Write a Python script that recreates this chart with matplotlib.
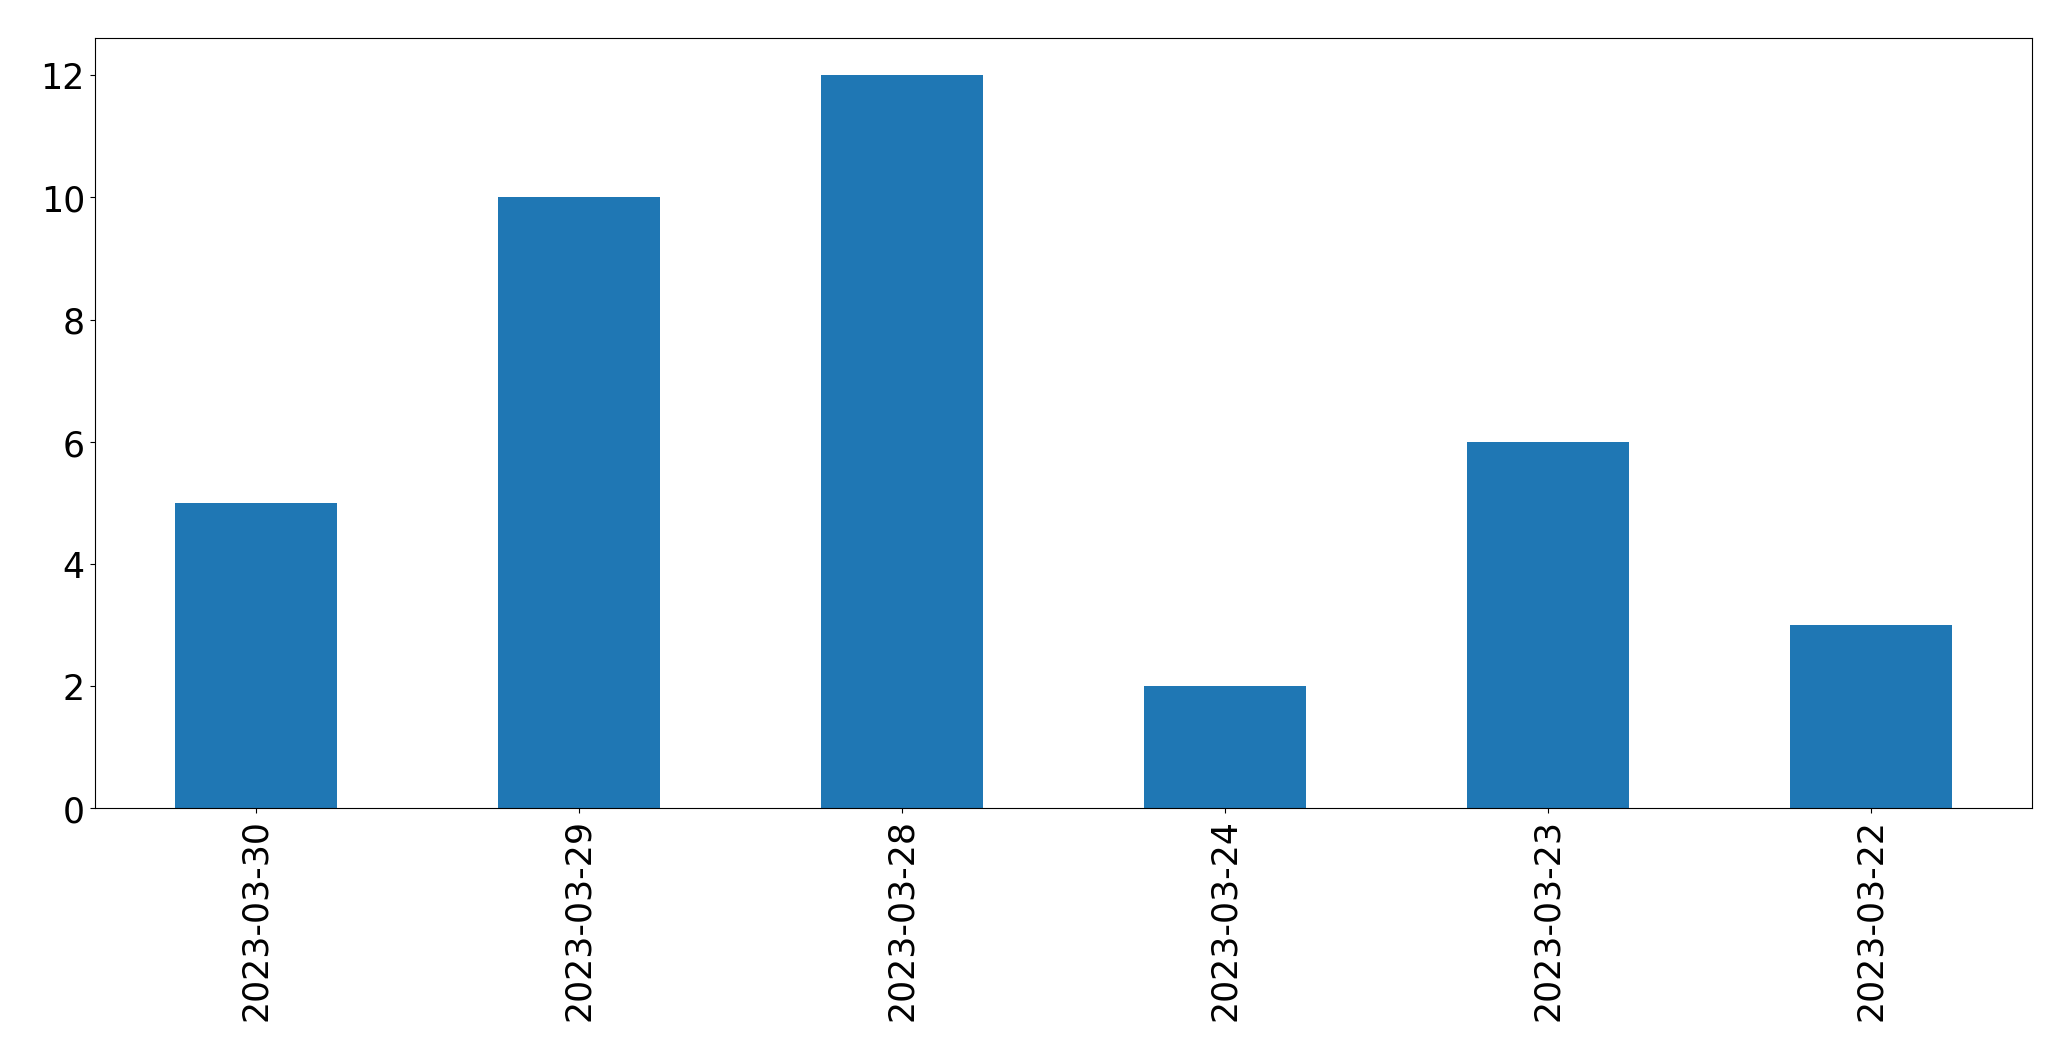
import matplotlib
matplotlib.use('Agg')
import matplotlib.pyplot as plt

dates = ['2023-03-30', '2023-03-29', '2023-03-28', '2023-03-24', '2023-03-23', '2023-03-22']
counts = [5, 10, 12, 2, 6, 3]

fig = plt.figure(figsize=(20.71, 10.608), dpi=100)
ax = fig.add_axes([0.0457, 0.2372, 0.9356, 0.7258])

x = range(len(dates))
ax.bar(x, counts, width=0.5, color='#1f77b4')
ax.set_xlim(-0.5, len(dates) - 0.5)
ax.set_xticks(list(x))
ax.set_xticklabels(dates, rotation=90)
ax.tick_params(axis='both', labelsize=25)

fig.savefig('out.png', dpi=100)
